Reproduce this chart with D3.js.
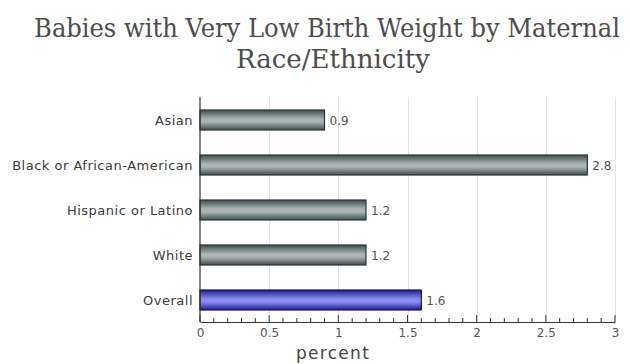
<!DOCTYPE html>
<html><head><meta charset="utf-8">
<script src="https://cdn.jsdelivr.net/npm/d3@7"></script>
<style>body{margin:0;background:#fff}svg{display:block}
.ttl{font-family:"DejaVu Serif","Liberation Serif",serif;}
.lbl{font-family:"DejaVu Sans",Verdana,sans-serif;}
</style>
</head><body>
<svg id="c" width="630" height="364"></svg>
<script>
const categories = ["Asian","Black or African-American","Hispanic or Latino","White","Overall"];
const values = [0.9, 2.8, 1.2, 1.2, 1.6];
const highlight = ["Overall"];
const xTicks = [0, 0.5, 1, 1.5, 2, 2.5, 3];
const xTickLabels = ["0","0.5","1","1.5","2","2.5","3"];
const titleLines = ["Babies with Very Low Birth Weight by Maternal","Race/Ethnicity"];
const xTitle = "percent";

(function(){
const svg = d3.select("#c");
const pL = 200, pR = 615, pT = 97, pB = 322;
const x = d3.scaleLinear().domain([0,3]).range([pL,pR]);
const y = d3.scaleBand().domain(categories).range([pT+0.5,pB+0.5]).padding(0);
const barH = 20;

const defs = svg.append("defs");
function grad(id, edge, mid){
  const g = defs.append("linearGradient").attr("id",id).attr("x1",0).attr("y1",0).attr("x2",0).attr("y2",1);
  g.append("stop").attr("offset","0%").attr("stop-color",edge);
  g.append("stop").attr("offset","45%").attr("stop-color",mid);
  g.append("stop").attr("offset","60%").attr("stop-color",mid);
  g.append("stop").attr("offset","100%").attr("stop-color",edge);
}
grad("gGray","#3f4d4d","#aab5b4");
grad("gBlue","#1e1e8c","#8a8cf2");

// title (horizontally condensed to match reference width)
const titleCx = [327, 333], titleW = [586, 194];
svg.append("g").selectAll("text").data(titleLines).join("text")
  .attr("class","ttl")
  .attr("text-anchor","middle")
  .attr("font-size",26)
  .attr("fill","#4d4d4d")
  .text(d=>d)
  .each(function(d,i){
    const len = this.getComputedTextLength();
    const sx = titleW[i]/len;
    d3.select(this).attr("transform",`translate(${titleCx[i]},${37+i*31}) scale(${sx},1)`);
  });

// gridlines
svg.append("g").selectAll("line").data(xTicks.filter(t=>t>0)).join("line")
  .attr("x1",d=>Math.round(x(d))+0.5).attr("x2",d=>Math.round(x(d))+0.5)
  .attr("y1",pT).attr("y2",pB)
  .attr("stroke","#e4e4e4").attr("stroke-width",1);

// bars
svg.append("g").selectAll("rect").data(categories).join("rect")
  .attr("x",x(0)).attr("y",d=>y(d)+y.bandwidth()/2-barH/2)
  .attr("width",(d,i)=>x(values[i])-x(0)).attr("height",barH)
  .attr("fill",d=>highlight.includes(d)?"url(#gBlue)":"url(#gGray)")
  .attr("stroke",d=>highlight.includes(d)?"#12125e":"#2a3535").attr("stroke-width",1.2);

// value labels
svg.append("g").selectAll("text").data(categories).join("text")
  .attr("class","lbl")
  .attr("x",(d,i)=>x(values[i])+5).attr("y",d=>y(d)+y.bandwidth()/2+4.5)
  .attr("font-size",12)
  .attr("fill","#555").text((d,i)=>values[i].toFixed(1));

// category labels
svg.append("g").selectAll("text").data(categories).join("text")
  .attr("class","lbl")
  .attr("x",193).attr("y",d=>y(d)+y.bandwidth()/2+4.5)
  .attr("text-anchor","end")
  .attr("font-size",13).attr("letter-spacing",0.5)
  .attr("fill","#3a3a3a").text(d=>d);

// x axis
const xa = svg.append("g").attr("transform",`translate(0,${pB})`)
  .call(d3.axisBottom(x).tickValues(xTicks).tickFormat((d,i)=>xTickLabels[i]).tickSize(0).tickPadding(6));
xa.select(".domain").attr("stroke","#333").attr("stroke-width",1.2);
xa.selectAll("text").attr("class","lbl").attr("font-size",12).attr("fill","#555");
// minor/major ticks upward
const minor = d3.range(0,31).map(i=>i/10);
svg.append("g").selectAll("line").data(minor).join("line")
  .attr("x1",d=>x(d)).attr("x2",d=>x(d))
  .attr("y1",pB).attr("y2",d=> (Math.round(d*10)%5===0) ? pB-7 : pB-4)
  .attr("stroke","#333").attr("stroke-width",1);

// y axis line
svg.append("line").attr("x1",pL).attr("x2",pL).attr("y1",pT).attr("y2",pB)
  .attr("stroke","#333").attr("stroke-width",1.2);

// x title
svg.append("text").attr("class","lbl").attr("x",333).attr("y",359).attr("text-anchor","middle")
  .attr("font-size",17).attr("letter-spacing",1.3)
  .attr("fill","#444").text(xTitle);
})();
</script>
</body></html>
